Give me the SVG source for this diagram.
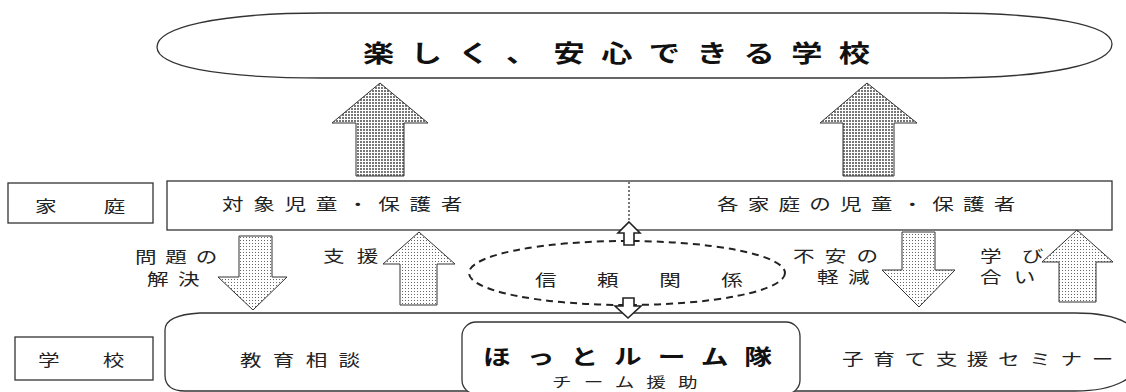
<svg xmlns="http://www.w3.org/2000/svg" width="1126" height="392" viewBox="0 0 1126 392">
<style>
.ln{fill:none;stroke:#333;stroke-width:1.3}
.box{fill:#fff;stroke:#333;stroke-width:1.3}
.t{font-family:"Noto Sans CJK JP","Noto Sans",sans-serif;font-size:16px;fill:#222}
.tb{font-family:"Noto Sans CJK JP","Noto Sans",sans-serif;font-weight:bold;fill:#111}
.big{fill:url(#dense);stroke:#333;stroke-width:1}
.mid{fill:url(#light);stroke:#333;stroke-width:1}
.hol{fill:#fff;stroke:#222;stroke-width:1.6}
</style>
<defs>
<pattern id="dense" width="3" height="3" patternUnits="userSpaceOnUse"><rect width="3" height="3" fill="#fff"/><rect width="2" height="2" fill="#777"/></pattern>
<pattern id="light" width="3" height="3" patternUnits="userSpaceOnUse"><rect width="3" height="3" fill="#fff"/><rect width="1" height="1" fill="#666"/></pattern>
</defs>
<rect width="1126" height="392" fill="#fff"/>

<g id="goal">
<path class="ln" d="M323 13 L943 13 C1050 13 1112 25 1112 44 C1112 64 1050 78 943 78 L323 78 C215 78 157 66 157 47 C157 28 215 13 323 13 Z"/>
<text class="tb" font-size="24" transform="translate(363,62) scale(1.3,1)" textLength="390" lengthAdjust="spacing">楽しく、安心できる学校</text>
</g>

<g id="school-band">
<path class="box" d="M200 313 L1075 313 C1112 313 1142 322 1142 350 C1142 380 1112 391 1075 391 L185 391 Q165 391 165 375 L165 330 Q165 315 200 313 Z"/>
<text class="t" transform="translate(240,366) scale(1.35,1)" textLength="89" lengthAdjust="spacing">教育相談</text>
<text class="t" transform="translate(842,365) scale(1.35,1)" textLength="201" lengthAdjust="spacing">子育て支援セミナー</text>
</g>

<g id="hottoroom">
<rect class="box" x="462" y="322" width="338" height="72" rx="14"/>
<text class="tb" font-size="21" transform="translate(483,364) scale(1.32,1)" textLength="219" lengthAdjust="spacing">ほっとルーム隊</text>
<text class="t" font-size="14" style="font-size:14px" transform="translate(552,387) scale(1.4,1)" textLength="104" lengthAdjust="spacing">チーム援助</text>
</g>

<g id="label-katei">
<rect class="box" x="8" y="183" width="145" height="40"/>
<text class="t" transform="translate(35,212) scale(1.35,1)" textLength="67" lengthAdjust="spacing">家庭</text>
</g>

<g id="label-gakko">
<rect class="box" x="15" y="337" width="138" height="43"/>
<text class="t" transform="translate(38,366) scale(1.35,1)" textLength="64" lengthAdjust="spacing">学校</text>
</g>

<g id="family">
<rect class="box" x="167" y="181" width="945" height="49"/>
<text class="t" transform="translate(222,210) scale(1.35,1)" textLength="178" lengthAdjust="spacing">対象児童・保護者</text>
<text class="t" transform="translate(717,210) scale(1.35,1)" textLength="221" lengthAdjust="spacing">各家庭の児童・保護者</text>
</g>

<g id="trust">
<ellipse cx="627" cy="273" rx="158" ry="32" fill="none" stroke="#222" stroke-width="2" stroke-dasharray="7 5"/>
<text class="t" transform="translate(535,286) scale(1.35,1)" textLength="154" lengthAdjust="spacing">信頼関係</text>
</g>

<g id="connectors">
<polygon class="big" points="380,83 428,123 404,123 404,176 356,176 356,123 332,123"/>
<polygon class="big" points="867,83 917,123 894,123 894,176 843,176 843,123 820,123"/>
<line x1="629" y1="182" x2="629" y2="222" stroke="#333" stroke-width="1.3" stroke-dasharray="2 2"/>
<polygon class="hol" points="629,222 640,233 634,233 634,245 624,245 624,233 618,233"/>
<polygon class="hol" points="623,298 634,298 634,306 641,306 628,318 615,306 623,306"/>
<polygon class="mid" points="239,236 272,236 272,277 287,277 253,310 218,277 239,277"/>
<polygon class="mid" points="419,232 455,264 437,264 437,305 400,305 400,264 383,264"/>
<polygon class="mid" points="902,232 935,232 935,270 955,270 919,307 882,270 902,270"/>
<polygon class="mid" points="1077,230 1113,262 1096,262 1096,302 1059,302 1059,262 1042,262"/>
<text class="t" transform="translate(135,263) scale(1.35,1)" textLength="61" lengthAdjust="spacing">問題の</text>
<text class="t" transform="translate(147,285) scale(1.35,1)" textLength="39" lengthAdjust="spacing">解決</text>
<text class="t" transform="translate(323,262) scale(1.35,1)" textLength="41" lengthAdjust="spacing">支援</text>
<text class="t" transform="translate(793,262) scale(1.35,1)" textLength="63" lengthAdjust="spacing">不安の</text>
<text class="t" transform="translate(817,283) scale(1.35,1)" textLength="39" lengthAdjust="spacing">軽減</text>
<text class="t" transform="translate(980,262) scale(1.35,1)" textLength="47" lengthAdjust="spacing">学び</text>
<text class="t" transform="translate(980,283) scale(1.35,1)" textLength="41" lengthAdjust="spacing">合い</text>
</g>
</svg>
